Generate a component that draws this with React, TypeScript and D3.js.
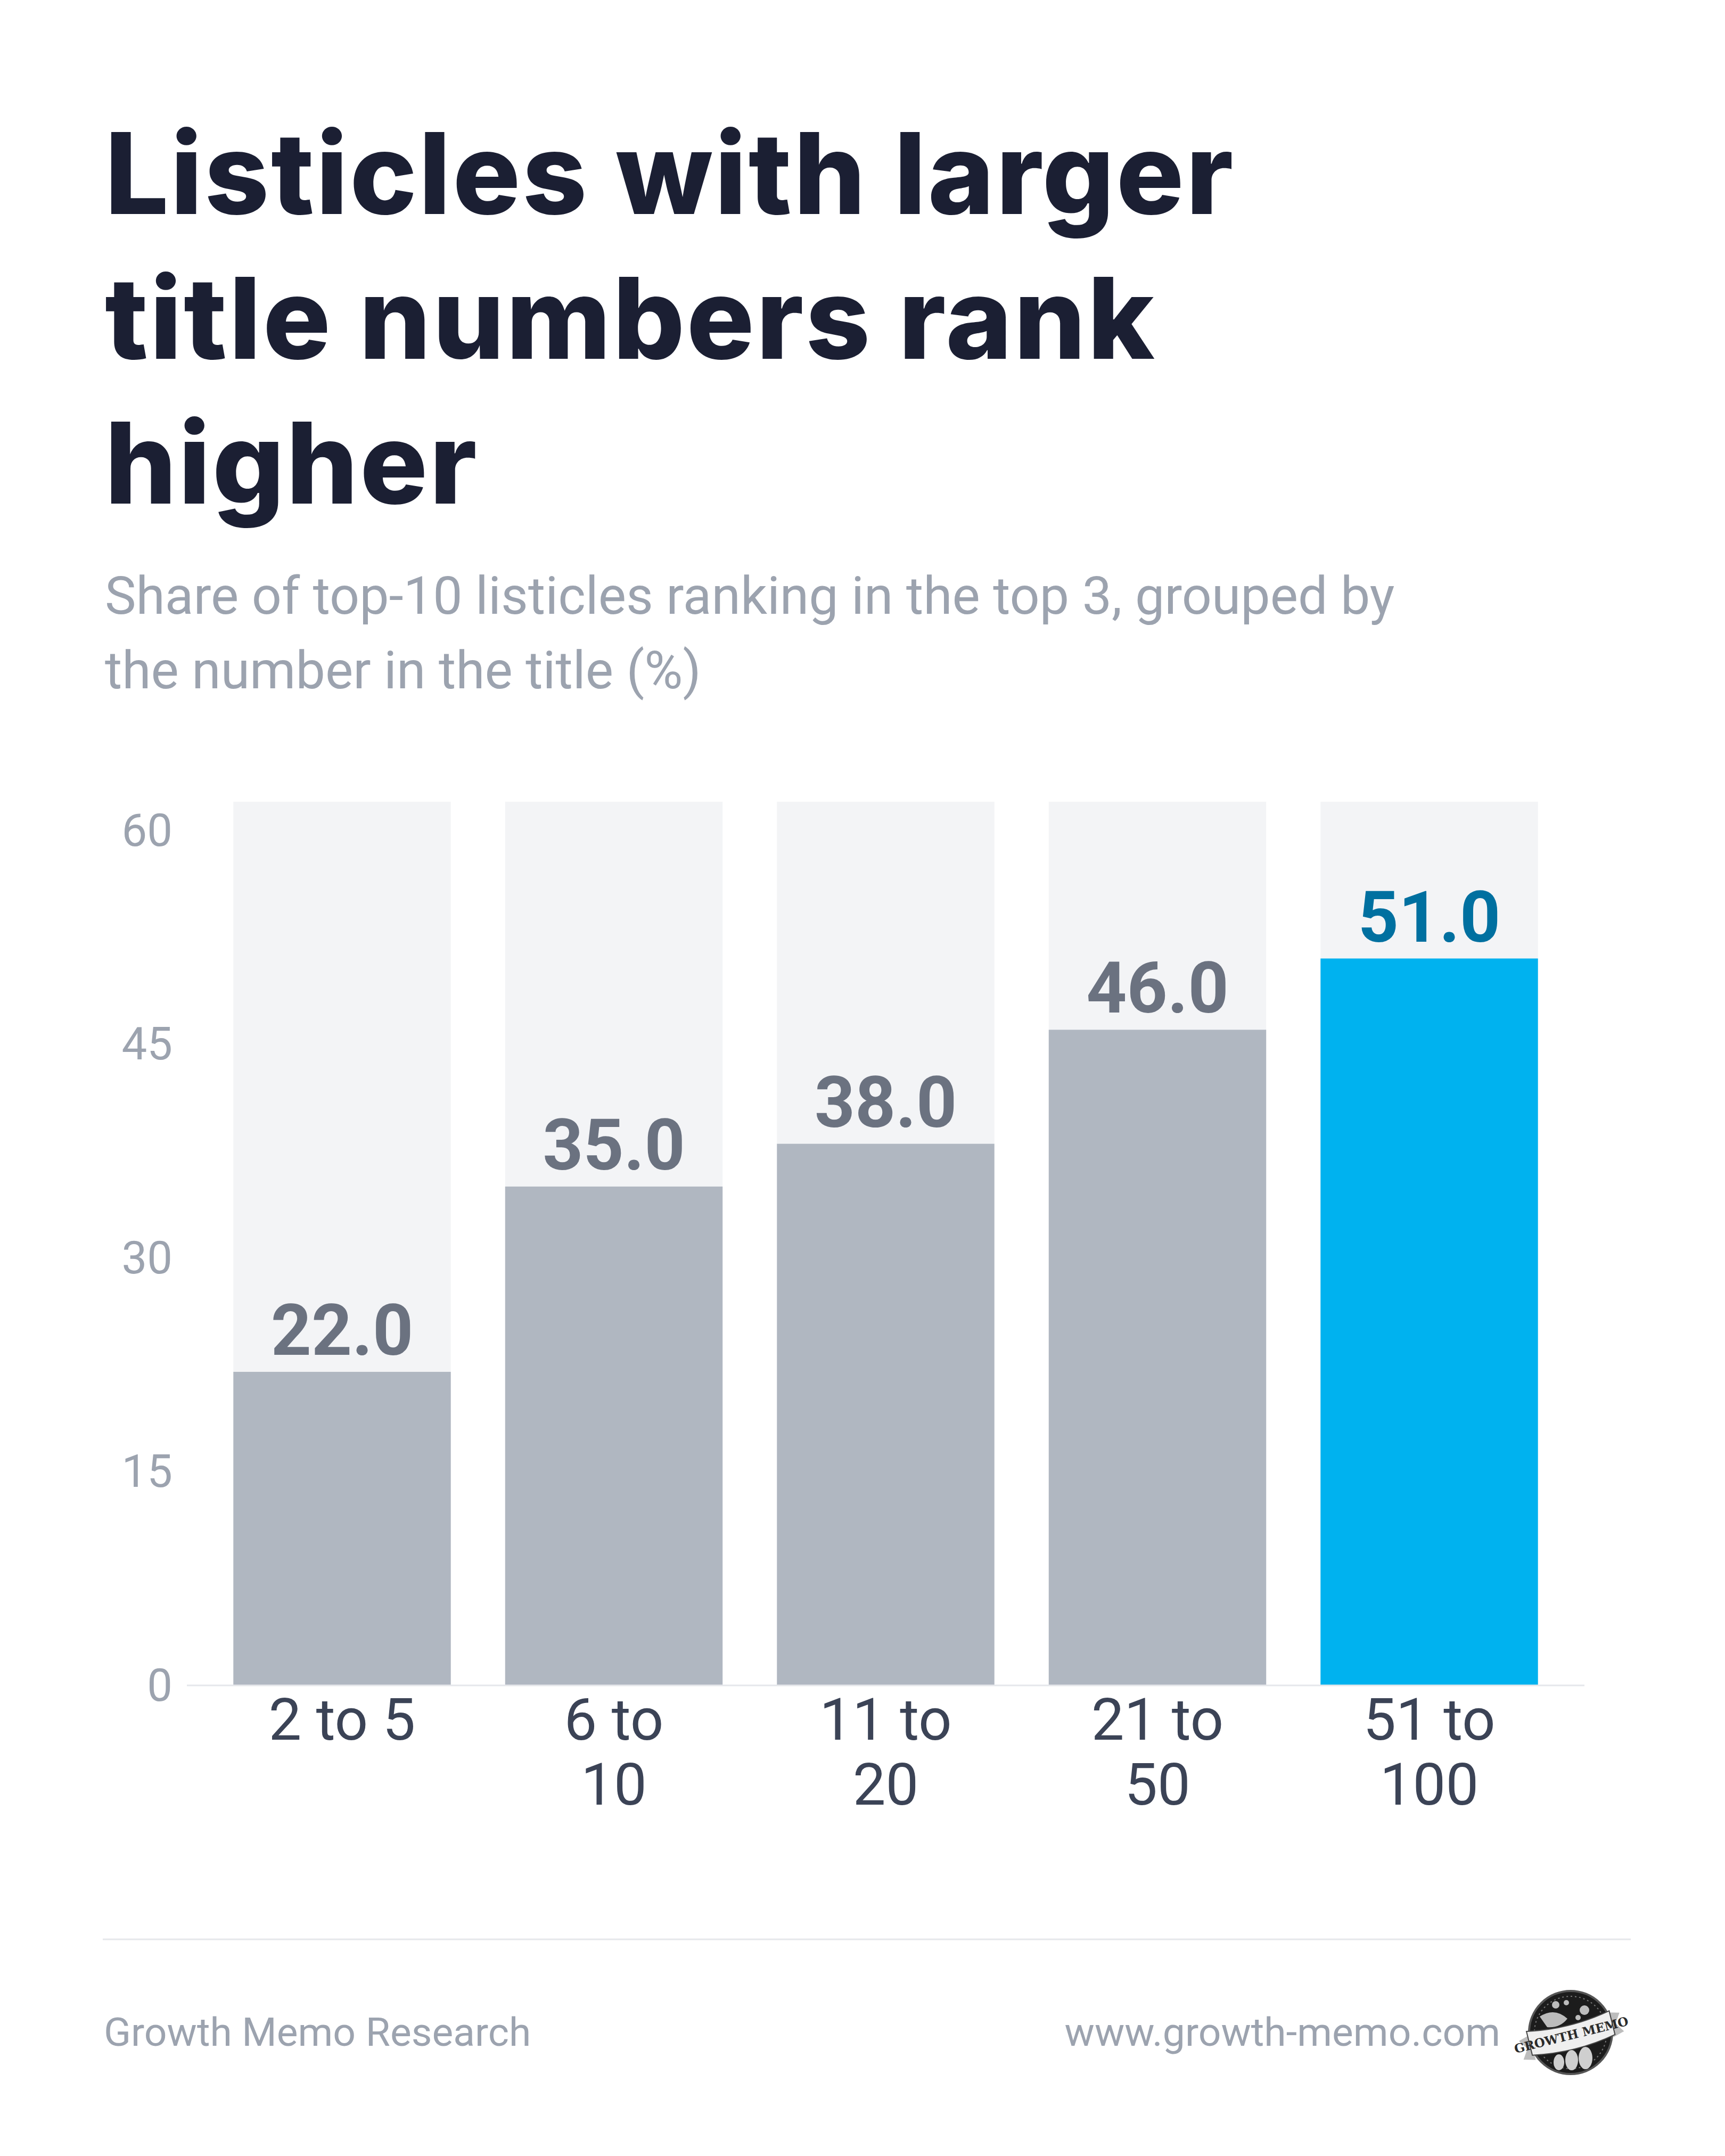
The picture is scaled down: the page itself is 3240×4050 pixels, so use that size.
import React from "react";
import * as d3 from "d3";

const WIDTH = 3240;
const HEIGHT = 4050;

const TITLE_LINES = ["Listicles with larger", "title numbers rank", "higher"];
const SUBTITLE_LINES = [
  "Share of top-10 listicles ranking in the top 3, grouped by",
  "the number in the title (%)",
];

const categories = ["2 to 5", "6 to 10", "11 to 20", "21 to 50", "51 to 100"];
const categoryLines = [["2 to 5"], ["6 to", "10"], ["11 to", "20"], ["21 to", "50"], ["51 to", "100"]];
const values = [22.0, 35.0, 38.0, 46.0, 51.0];
const highlighted = "51 to 100";
const yTicks = [0, 15, 30, 45, 60];
const Y_MAX = 62;

const SOURCE = "Growth Memo Research";
const SITE = "www.growth-memo.com";

const COLORS = {
  title: "#1b1f33",
  muted: "#9ca3af",
  category: "#3b4356",
  track: "#f3f4f6",
  bar: "#b0b7c1",
  barLabel: "#6b7280",
  accent: "#00b2ef",
  accentLabel: "#0070a0",
  rule: "#e5e7eb",
};

const PLOT = { left: 351, right: 2976, top: 1506, bottom: 3166 };

const Logo = ({ cx, cy, r }: { cx: number; cy: number; r: number }) => {
  // simplified badge: dark disc, ribbon banner with the name
  return (
    <g transform={`translate(${cx},${cy})`}>
      <circle r={r} fill="#1c1c1c" stroke="#555" strokeWidth={4} />
      <circle r={r - 10} fill="none" stroke="#777" strokeWidth={2} strokeDasharray="3,5" />
      <g fill="#d9d9d9" opacity={0.85}>
        <circle cx={-28} cy={-52} r={7} />
        <circle cx={-8} cy={-56} r={5} />
        <circle cx={26} cy={-42} r={9} />
        <circle cx={40} cy={-20} r={6} />
        <circle cx={14} cy={-28} r={5} />
        <path d="M-58,-30 Q-30,-48 -6,-26 Q-20,-8 -44,-10 Z" />
      </g>
      <g transform="rotate(-14)">
        <path
          d="M-98,-8 L-76,-14 L-76,34 L-98,28 L-86,10 Z M98,-14 L76,-20 L76,28 L98,22 L86,4 Z"
          fill="#bdbdbd"
        />
        <path d="M-80,-22 Q0,-6 80,-22 L80,24 Q0,40 -80,24 Z" fill="#efefef" stroke="#444" strokeWidth={2} />
        <text
          x={0}
          y={13}
          textAnchor="middle"
          fontFamily="'DejaVu Serif', serif"
          fontWeight={700}
          fontSize={23}
          fill="#2a2a2a"
        >
          GROWTH MEMO
        </text>
      </g>
      <g fill="#cfcfcf">
        <ellipse cx={-22} cy={56} rx={10} ry={15} />
        <ellipse cx={2} cy={52} rx={12} ry={19} />
        <ellipse cx={28} cy={48} rx={13} ry={21} />
      </g>
    </g>
  );
};

export default function App() {
  const x = d3
    .scaleBand<string>()
    .domain(categories)
    .range([PLOT.left, PLOT.right])
    .paddingInner(0.2)
    .paddingOuter(0.171);

  const y = d3.scaleLinear().domain([0, Y_MAX]).range([PLOT.bottom, PLOT.top]);

  return (
    <div style={{ position: "absolute", left: 0, top: 0 }}>
      <svg width={WIDTH} height={HEIGHT} style={{ display: "block", background: "#fff" }}>
        {/* title */}
        {TITLE_LINES.map((line, i) => (
          <text
            key={line}
            x={197}
            y={402 + i * 272}
            fontFamily="Inter, 'Noto Sans', sans-serif"
            fontWeight={800}
            fontSize={212}
            letterSpacing={3.5}
            fill={COLORS.title}
          >
            {line}
          </text>
        ))}

        {/* subtitle */}
        {SUBTITLE_LINES.map((line, i) => (
          <text
            key={line}
            x={197}
            y={1153 + i * 140}
            fontFamily="Roboto, sans-serif"
            fontSize={98.6}
            fill={COLORS.muted}
          >
            {line}
          </text>
        ))}

        {/* y ticks */}
        {yTicks.map((t) => (
          <text
            key={t}
            x={324}
            y={y(t)}
            textAnchor="end"
            dominantBaseline="central"
            fontFamily="Roboto, sans-serif"
            fontSize={85}
            fill={COLORS.muted}
          >
            {t}
          </text>
        ))}

        {/* bars */}
        {categories.map((c, i) => {
          const v = values[i];
          const isHi = c === highlighted;
          const bx = x(c) as number;
          return (
            <g key={c}>
              <rect x={bx} y={y(Y_MAX)} width={x.bandwidth()} height={y(0) - y(Y_MAX)} fill={COLORS.track} />
              <rect
                x={bx}
                y={y(v)}
                width={x.bandwidth()}
                height={y(0) - y(v)}
                fill={isHi ? COLORS.accent : COLORS.bar}
              />
              <text
                x={bx + x.bandwidth() / 2}
                y={y(v) - 32}
                textAnchor="middle"
                fontFamily="Roboto, sans-serif"
                fontWeight={700}
                fontSize={133}
                fill={isHi ? COLORS.accentLabel : COLORS.barLabel}
              >
                {v.toFixed(1)}
              </text>
              {categoryLines[i].map((l, j) => (
                <text
                  key={l}
                  x={bx + x.bandwidth() / 2}
                  y={y(0) + 102 + j * 122}
                  textAnchor="middle"
                  fontFamily="Roboto, sans-serif"
                  fontSize={110}
                  fill={COLORS.category}
                >
                  {l}
                </text>
              ))}
            </g>
          );
        })}

        {/* baseline */}
        <line x1={PLOT.left} x2={PLOT.right} y1={y(0)} y2={y(0)} stroke={COLORS.rule} strokeWidth={3} />

        {/* footer */}
        <line x1={193} x2={3063} y1={3643} y2={3643} stroke={COLORS.rule} strokeWidth={3} />
        <text x={195} y={3843} fontFamily="Roboto, sans-serif" fontSize={75} fill={COLORS.muted}>
          {SOURCE}
        </text>
        <text x={2818} y={3843} textAnchor="end" fontFamily="Roboto, sans-serif" fontSize={75} fill={COLORS.muted}>
          {SITE}
        </text>
        <Logo cx={2950} cy={3818} r={78} />
      </svg>
    </div>
  );
}
